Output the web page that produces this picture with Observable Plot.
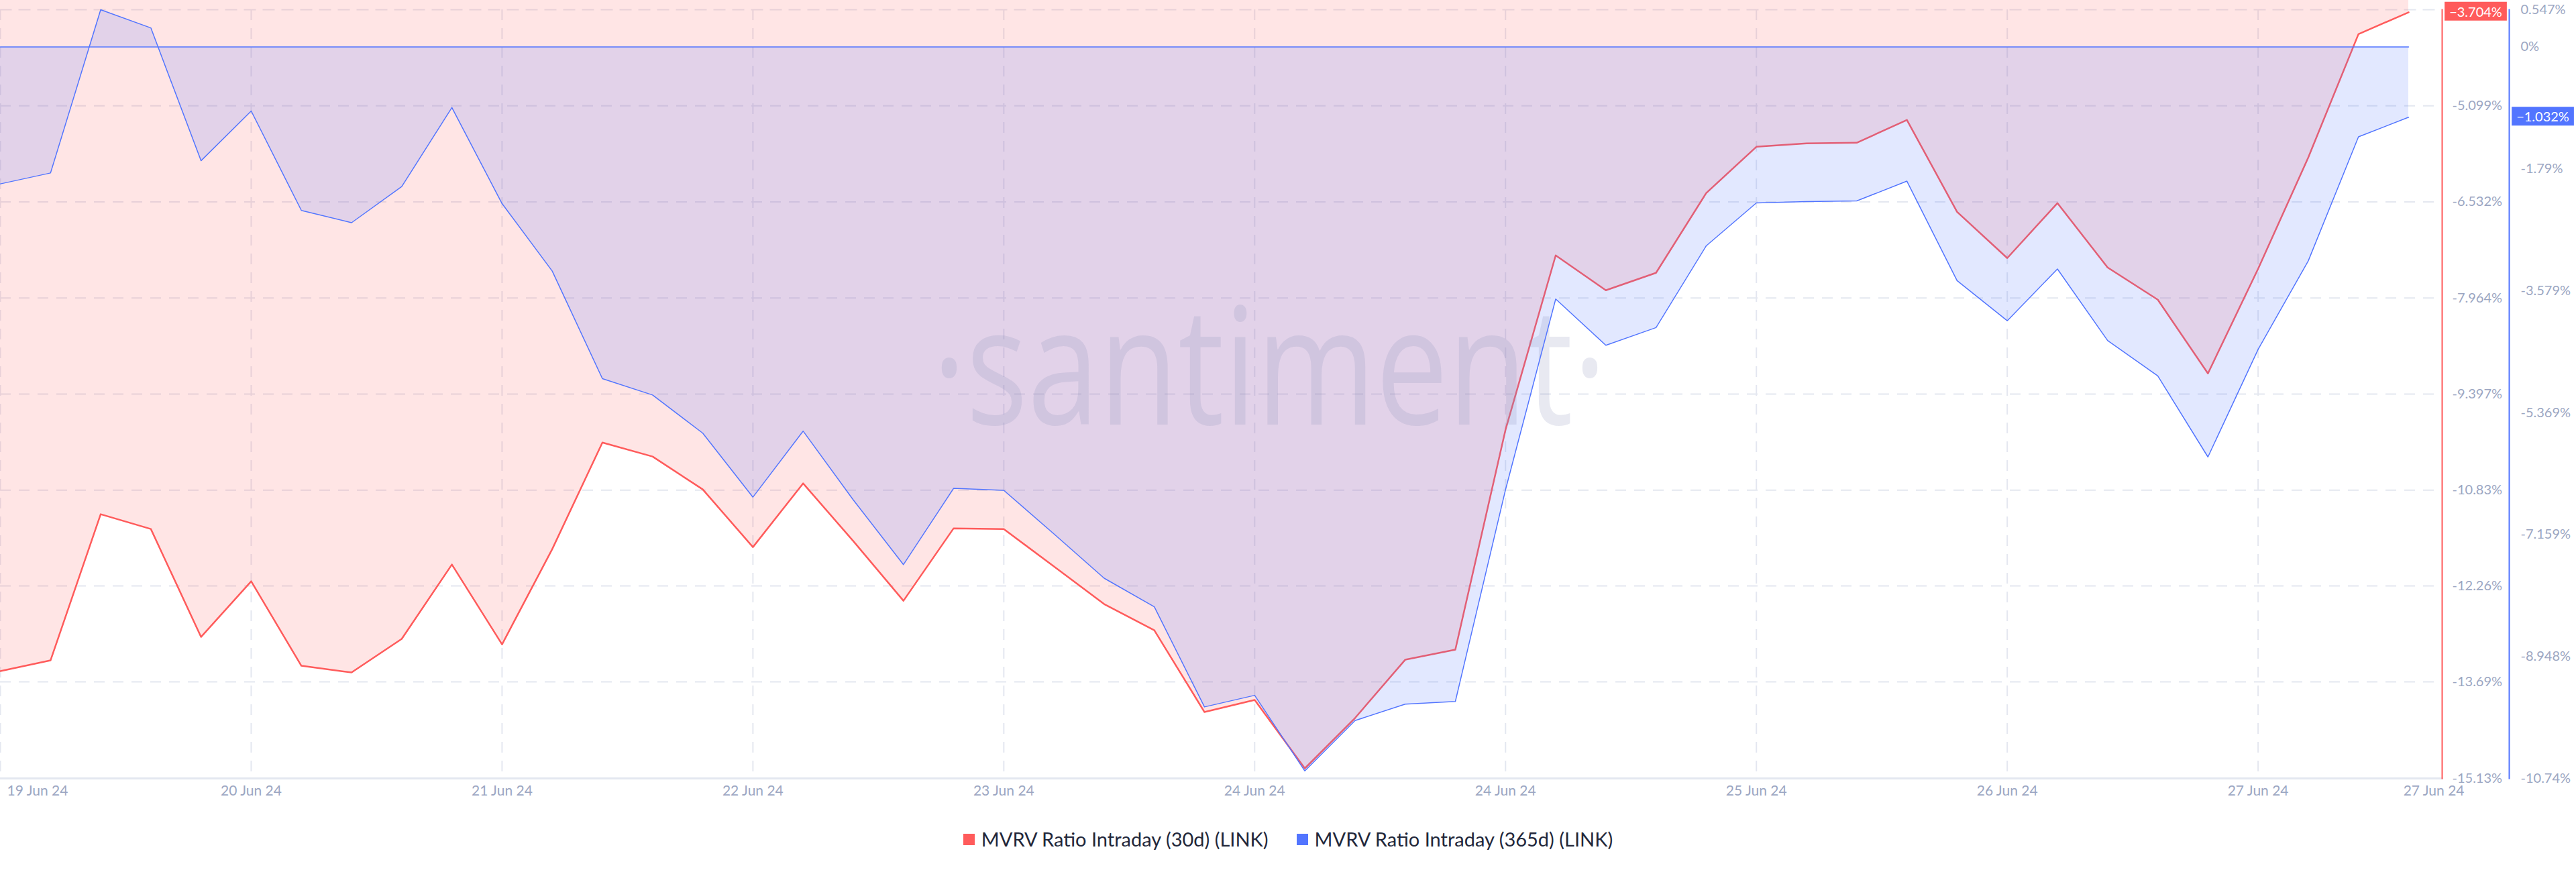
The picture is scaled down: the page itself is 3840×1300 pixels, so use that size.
<!DOCTYPE html>
<html>
<head>
<meta charset="utf-8">
<script src="https://cdn.jsdelivr.net/npm/d3@7"></script>
<script src="https://cdn.jsdelivr.net/npm/@observablehq/plot@0.6"></script>
<style>
  html, body { margin: 0; padding: 0; background: #ffffff; }
  body { width: 3840px; height: 1300px; overflow: hidden; font-family: Lato, "Noto Sans", sans-serif; }
  #legend { display: flex; justify-content: center; align-items: center; gap: 42px; margin-top: 29px; font-size: 29px; color: #22273a; line-height: 34px; }
  #legend .item { display: flex; align-items: center; gap: 10px; }
  #legend .sw { width: 17px; height: 17px; display: inline-block; }
</style>
</head>
<body>
<div id="chart"></div>
<div id="legend"></div>
<script>
// ---- data ----
const red30 = [-13.53, -13.37, -11.19, -11.41, -13.02, -12.19, -13.45, -13.55, -13.05, -11.94,
  -13.13, -11.71, -10.12, -10.33, -10.82, -11.68, -10.73, -11.59, -12.48, -11.40,
  -11.41, -11.97, -12.53, -12.92, -14.14, -13.96, -14.98, -14.23, -13.36, -13.21,
  -9.93, -7.33, -7.85, -7.59, -6.40, -5.71, -5.66, -5.65, -5.31, -6.68,
  -7.37, -6.55, -7.51, -7.99, -9.09, -7.53, -5.87, -4.03, -3.704];
const blue365 = [-2.01, -1.85, 0.547, 0.28, -1.67, -0.94, -2.40, -2.58, -2.05, -0.89,
  -2.30, -3.29, -4.87, -5.11, -5.67, -6.61, -5.64, -6.65, -7.60, -6.48,
  -6.51, -7.15, -7.80, -8.22, -9.69, -9.52, -10.63, -9.89, -9.65, -9.61,
  -6.50, -3.70, -4.38, -4.12, -2.92, -2.29, -2.27, -2.26, -1.97, -3.43,
  -4.02, -3.26, -4.31, -4.83, -6.02, -4.44, -3.14, -1.32, -1.032];
const xTickIdx = [0, 5, 10, 15, 20, 25, 30, 35, 40, 45];
const xTickLabels = ["19 Jun 24", "20 Jun 24", "21 Jun 24", "22 Jun 24", "23 Jun 24",
  "24 Jun 24", "24 Jun 24", "25 Jun 24", "26 Jun 24", "27 Jun 24"];
const xEndLabel = "27 Jun 24";
const redTicks = [-5.099, -6.532, -7.964, -9.397, -10.83, -12.26, -13.69, -15.13];
const redTickLabels = ["-5.099%", "-6.532%", "-7.964%", "-9.397%", "-10.83%", "-12.26%", "-13.69%", "-15.13%"];
const blueTicks = [0.547, 0, -1.79, -3.579, -5.369, -7.159, -8.948, -10.74];
const blueTickLabels = ["0.547%", "0%", "-1.79%", "-3.579%", "-5.369%", "-7.159%", "-8.948%", "-10.74%"];
const redDomain = [-15.13, -3.666];
const blueDomain = [-10.74, 0.547];
const seriesNames = ["MVRV Ratio Intraday (30d) (LINK)", "MVRV Ratio Intraday (365d) (LINK)"];
const colors = ["#ff5b5b", "#5275ff"];

// ---- build ----
const n = red30.length;
const toRed = d3.scaleLinear().domain(blueDomain).range(redDomain); // blue axis -> shared y scale
const data = red30.map((r, i) => ({i, r, b: toRed(blue365[i]), b0: toRed(0), top: 0}));
const gridStyle = {stroke: "#e4e7f0", strokeWidth: 2, strokeDasharray: "16,12"};
const tickFill = "#9ba6c2";
const fmt = d => d3.format(".3f")(d) + "%";

const chart = Plot.plot({
  width: 3840,
  height: 1205,
  marginTop: 14,
  marginBottom: 45,
  marginLeft: 0,
  marginRight: 200,
  style: {background: "transparent", fontFamily: "Lato, 'Noto Sans', sans-serif"},
  x: {domain: [0, n - 1], insetRight: 50, axis: null},
  y: {domain: redDomain, axis: null},
  marks: [
    Plot.ruleY(redTicks, {y: d => d, ...gridStyle}),
    Plot.frame({anchor: "top", ...gridStyle}),
    Plot.ruleX(xTickIdx, {x: d => d, ...gridStyle}),
    Plot.areaY(data, {x: "i", y1: "r", y2: "top", fill: colors[0], fillOpacity: 0.155}),
    Plot.line(data, {x: "i", y: "r", stroke: colors[0], strokeWidth: 2.5}),
    Plot.areaY(data, {x: "i", y1: "b", y2: "b0", fill: colors[1], fillOpacity: 0.17}),
    Plot.text(["\u00B7santiment\u00B7"], {frameAnchor: "middle", dx: 72, dy: 45, lineAnchor: "bottom", textAnchor: "middle",
      fontSize: 192, fontFamily: "Open Sans", fill: "#8a93b8", fillOpacity: 0.2}),
    Plot.line(data, {x: "i", y: "b0", stroke: colors[1], strokeWidth: 1.5}),
    Plot.line(data, {x: "i", y: "b", stroke: colors[1], strokeWidth: 1.5}),
    Plot.frame({anchor: "bottom", stroke: "#e3e7f0", strokeWidth: 3}),
    Plot.frame({anchor: "right", stroke: colors[0], strokeWidth: 2}),
    Plot.frame({anchor: "right", stroke: colors[1], strokeWidth: 2, dx: 100}),
    Plot.text(redTicks, {y: d => d, text: (d, i) => redTickLabels[i], frameAnchor: "right", textAnchor: "start", dx: 15, fontSize: 20, fill: tickFill}),
    Plot.text(blueTicks, {y: d => toRed(d), text: (d, i) => blueTickLabels[i], frameAnchor: "right", textAnchor: "start", dx: 117, fontSize: 20, fill: tickFill}),
    Plot.text([red30[n - 1]], {y: d => d, text: fmt, frameAnchor: "right", textAnchor: "middle", dx: 50, fontSize: 20, fill: "white"}),
    Plot.text([blue365[n - 1]], {y: d => toRed(d), text: fmt, frameAnchor: "right", textAnchor: "middle", dx: 150, fontSize: 20, fill: "white"}),
    Plot.text(xTickIdx.slice(1), {x: d => d, text: (d, i) => xTickLabels[i + 1], frameAnchor: "bottom", lineAnchor: "middle", dy: 19, fontSize: 21, fill: tickFill}),
    Plot.text([xTickIdx[0]], {x: d => d, text: () => xTickLabels[0], frameAnchor: "bottom", lineAnchor: "middle", textAnchor: "start", dx: 10, dy: 19, fontSize: 21, fill: tickFill}),
    Plot.text([xEndLabel], {frameAnchor: "bottom-right", lineAnchor: "middle", textAnchor: "end", dx: 33, dy: 19, fontSize: 21, fill: tickFill})
  ]
});
document.getElementById("chart").appendChild(chart);

// value badges behind the last-value labels
function badge(label, color) {
  d3.select(chart).selectAll("text").filter(function () { return this.textContent === label; }).each(function () {
    const bb = this.getBBox();
    const r = document.createElementNS("http://www.w3.org/2000/svg", "rect");
    r.setAttribute("x", bb.x - 7); r.setAttribute("y", bb.y - 2);
    r.setAttribute("width", bb.width + 14); r.setAttribute("height", bb.height + 4);
    r.setAttribute("fill", color);
    const t = this.getAttribute("transform"); if (t) r.setAttribute("transform", t);
    this.parentNode.insertBefore(r, this);
  });
}
badge(fmt(red30[n - 1]), colors[0]);
badge(fmt(blue365[n - 1]), colors[1]);

// stretch the watermark vertically around its baseline
d3.select(chart).selectAll("text").filter(function () { return this.textContent === "\u00B7santiment\u00B7"; }).each(function () {
  const bb = this.getBBox();
  const base = bb.y + bb.height * 0.785;
  const t = this.getAttribute("transform") || "";
  this.setAttribute("transform", `${t} translate(0,${base}) scale(1,1.27) translate(0,${-base})`);
});

// legend
const legend = d3.select("#legend");
seriesNames.forEach((name, k) => {
  const it = legend.append("div").attr("class", "item");
  it.append("span").attr("class", "sw").style("background", colors[k]);
  it.append("span").text(name);
});
</script>
</body>
</html>
